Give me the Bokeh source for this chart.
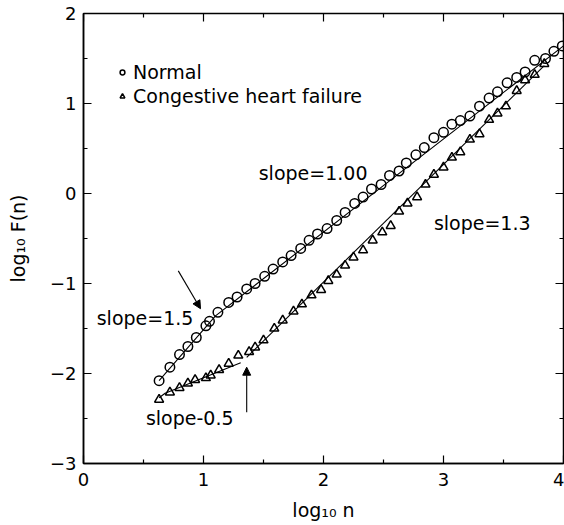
from math import pi
from bokeh.plotting import figure
from bokeh.models import (FixedTicker, Label, Arrow, NormalHead,
                          Legend, LegendItem, Range1d)
from bokeh.embed import file_html
from bokeh.resources import INLINE

# ---- data ----
normal_x = [0.63, 0.72, 0.80, 0.87, 0.94, 1.02, 1.05, 1.12, 1.21, 1.28, 1.36, 1.43,
            1.51, 1.58, 1.66, 1.73, 1.81, 1.88, 1.95, 2.03, 2.11, 2.18, 2.26, 2.33,
            2.40, 2.48, 2.55, 2.63, 2.69, 2.77, 2.84, 2.92, 3.00, 3.07, 3.14, 3.22,
            3.30, 3.38, 3.45, 3.53, 3.61, 3.68, 3.76, 3.85, 3.92, 3.99]
normal_y = [-2.08, -1.93, -1.79, -1.70, -1.60, -1.47, -1.42, -1.32, -1.21, -1.15, -1.06, -1.00,
            -0.92, -0.84, -0.76, -0.69, -0.61, -0.52, -0.45, -0.39, -0.30, -0.21, -0.11, -0.04,
            0.05, 0.10, 0.20, 0.25, 0.34, 0.43, 0.51, 0.62, 0.68, 0.77, 0.81, 0.86,
            0.97, 1.06, 1.13, 1.23, 1.29, 1.35, 1.48, 1.50, 1.58, 1.64]

chf_x = [0.63, 0.72, 0.80, 0.87, 0.93, 1.02, 1.06, 1.13, 1.21, 1.29, 1.38, 1.43,
         1.50, 1.59, 1.66, 1.75, 1.82, 1.90, 1.98, 2.04, 2.11, 2.18, 2.25, 2.33,
         2.41, 2.49, 2.56, 2.63, 2.70, 2.78, 2.85, 2.92, 3.00, 3.07, 3.14, 3.22,
         3.30, 3.38, 3.45, 3.52, 3.61, 3.68, 3.76, 3.84]
chf_y = [-2.29, -2.21, -2.16, -2.11, -2.07, -2.05, -2.02, -1.96, -1.89, -1.80, -1.76, -1.71,
         -1.63, -1.50, -1.41, -1.31, -1.23, -1.13, -1.07, -0.97, -0.90, -0.80, -0.71, -0.63,
         -0.52, -0.43, -0.36, -0.20, -0.11, -0.04, 0.10, 0.21, 0.29, 0.40, 0.46, 0.60,
         0.66, 0.82, 0.89, 0.97, 1.14, 1.26, 1.32, 1.44]

normal_fit_x = [0.63, 1.10, 4.00]
normal_fit_y = [-2.08, -1.36, 1.64]
chf_fit1_x = [0.63, 0.68, 1.31]
chf_fit1_y = [-2.27, -2.22, -1.88]
chf_fit2_x = [1.36, 3.84]
chf_fit2_y = [-1.82, 1.42]

x_lim = [0, 4]
y_lim = [-3, 2]
x_ticks = [0, 1, 2, 3, 4]
x_minor = [0.5, 1.5, 2.5, 3.5]
y_ticks = [-3, -2, -1, 0, 1, 2]
y_minor = [-2.5, -1.5, -0.5, 0.5, 1.5]
y_tick_labels = {-3: "\u22123", -2: "\u22122", -1: "\u22121", 0: "0", 1: "1", 2: "2"}

x_title = "log\u2081\u2080 n"
y_title = "log\u2081\u2080 F(n)"

slope_texts = ["slope=1.00", "slope=1.3", "slope=1.5", "slope-0.5"]
slope_tx = [1.46, 2.92, 0.11, 0.52]
slope_ty = [0.23, -0.33, -1.38, -2.49]

arrow_x0 = [0.79, 1.36]
arrow_y0 = [-0.86, -2.43]
arrow_x1 = [0.975, 1.36]
arrow_y1 = [-1.28, -1.93]

FONT = "DejaVu Sans"
W, H = 564, 525

p = figure(width=W, height=H, x_range=Range1d(*x_lim), y_range=Range1d(*y_lim),
           output_backend="svg", toolbar_location=None,
           min_border_left=83, min_border_right=1, min_border_top=13, min_border_bottom=62)
p.grid.visible = False
p.outline_line_color = "black"
p.outline_line_width = 1.5
p.background_fill_color = "white"
p.border_fill_color = "white"

xt = FixedTicker(ticks=x_ticks, minor_ticks=x_minor)
yt = FixedTicker(ticks=y_ticks, minor_ticks=y_minor)
p.xaxis.ticker = xt
p.yaxis.ticker = yt
p.yaxis.major_label_overrides = y_tick_labels

for ax in (p.xaxis[0], p.yaxis[0]):
    ax.axis_line_color = "black"
    ax.axis_line_width = 1.5
    ax.major_tick_in = 8
    ax.major_tick_out = 0
    ax.minor_tick_in = 4
    ax.minor_tick_out = 0
    ax.major_tick_line_color = "black"
    ax.minor_tick_line_color = "black"
    ax.major_tick_line_width = 1.2
    ax.minor_tick_line_width = 1.2
    ax.major_label_text_font = FONT
    ax.major_label_text_font_size = "18px"
    ax.major_label_text_color = "black"
    ax.axis_label_text_font = FONT
    ax.axis_label_text_font_size = "19px"
    ax.axis_label_text_font_style = "normal"
    ax.axis_label_text_color = "black"
p.xaxis[0].major_label_standoff = 9
p.yaxis[0].major_label_standoff = 7
p.xaxis[0].axis_label = x_title
p.yaxis[0].axis_label = y_title
p.xaxis[0].axis_label_standoff = 10
p.yaxis[0].axis_label_standoff = 18

# mirrored inward ticks on top and right edges (outer halves are clipped by the frame)
p.scatter(x_ticks, [y_lim[1]] * len(x_ticks), marker="dash", angle=pi / 2, size=16,
          line_color="black", line_width=1.2)
p.scatter(x_minor, [y_lim[1]] * len(x_minor), marker="dash", angle=pi / 2, size=8,
          line_color="black", line_width=1.2)
p.scatter([x_lim[1]] * len(y_ticks), y_ticks, marker="dash", size=16,
          line_color="black", line_width=1.2)
p.scatter([x_lim[1]] * len(y_minor), y_minor, marker="dash", size=8,
          line_color="black", line_width=1.2)

# fit lines
p.line(normal_fit_x, normal_fit_y, line_color="black", line_width=1.1)
p.line(chf_fit1_x, chf_fit1_y, line_color="black", line_width=1.1)
p.line(chf_fit2_x, chf_fit2_y, line_color="black", line_width=1.1)

r_norm = p.scatter(normal_x, normal_y, marker="circle", size=9.5, fill_alpha=0,
                   line_color="black", line_width=1.5)
r_chf = p.scatter(chf_x, chf_y, marker="triangle", size=9, fill_alpha=0,
                  line_color="black", line_width=1.5)

legend = Legend(items=[LegendItem(label="Normal", renderers=[r_norm]),
                       LegendItem(label="Congestive heart failure", renderers=[r_chf])],
                location=(33, 355), border_line_alpha=0, background_fill_alpha=0,
                label_text_font=FONT, label_text_font_size="19px", label_text_color="black",
                glyph_width=12, glyph_height=24, label_height=24, spacing=0,
                padding=0, margin=0, label_standoff=5)
p.add_layout(legend)

for t, tx, ty in zip(slope_texts, slope_tx, slope_ty):
    p.add_layout(Label(x=tx, y=ty, text=t, text_font=FONT, text_font_size="19px",
                       text_baseline="middle", text_align="left", text_color="black"))

for x0, y0, x1, y1 in zip(arrow_x0, arrow_y0, arrow_x1, arrow_y1):
    p.add_layout(Arrow(x_start=x0, y_start=y0, x_end=x1, y_end=y1,
                       line_color="black", line_width=1.1,
                       end=NormalHead(size=8, fill_color="black", line_color="black")))

open("out.html", "w").write(file_html(p, INLINE))
